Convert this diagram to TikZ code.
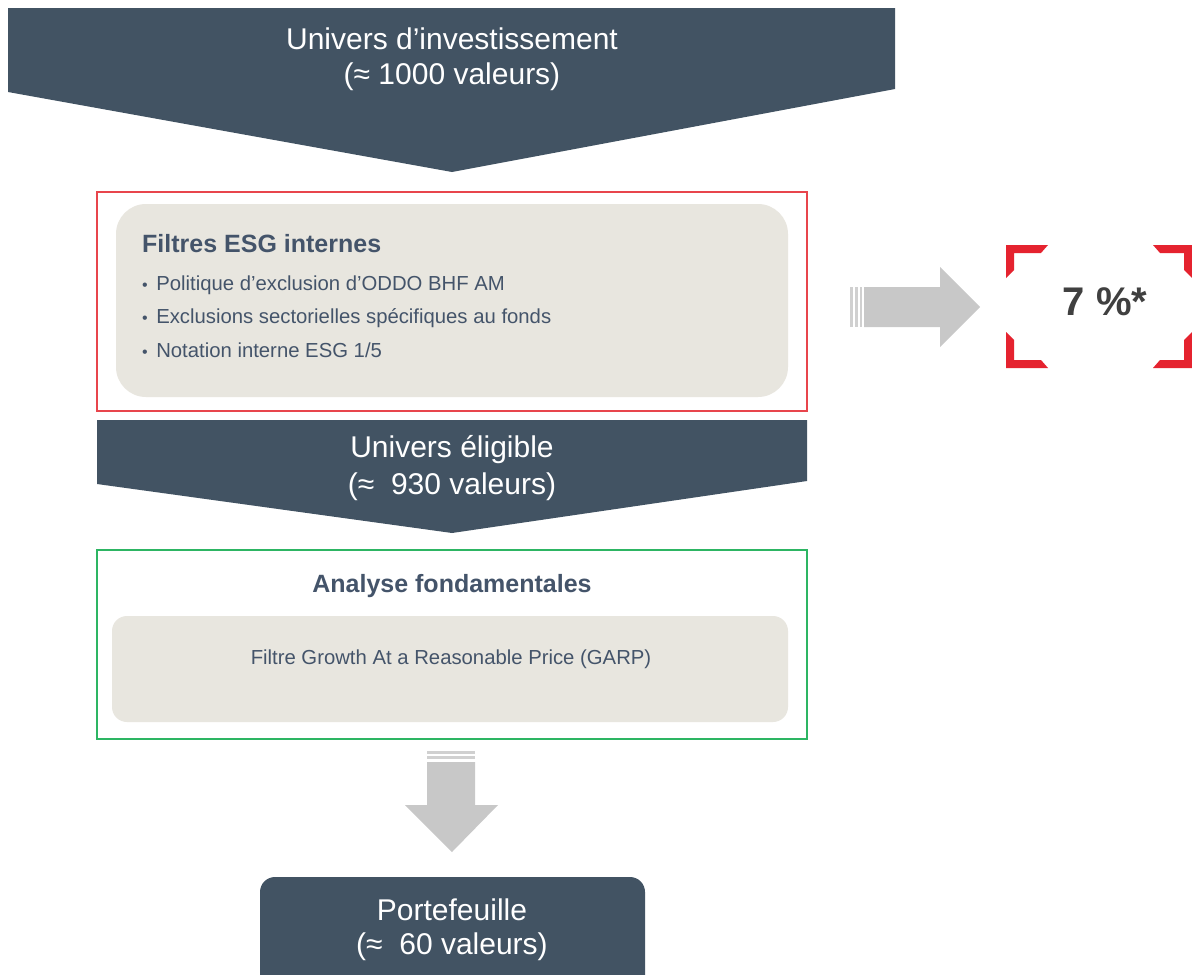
\documentclass[tikz,border=0pt]{standalone}
\usepackage{fontspec}
\setmainfont{Liberation Sans}
\definecolor{slate}{HTML}{425363}
\definecolor{beigec}{HTML}{E8E6DF}
\definecolor{boxtext}{HTML}{44546A}
\definecolor{redbox}{HTML}{E8454C}
\definecolor{redbr}{HTML}{E5232F}
\definecolor{greenbox}{HTML}{2DB563}
\definecolor{arrowgray}{HTML}{C8C8C8}
\definecolor{pcttext}{HTML}{404040}
\newcommand{\bulletitem}[1]{{\fontsize{16}{16}\selectfont•}\hspace{8.5pt}#1}
\tikzset{
  chevron/.style={fill=slate},
  beigebox/.style={fill=beigec},
  blockarrow/.style={fill=arrowgray},
  stripe/.style={fill=arrowgray!85},
  bracket/.style={fill=redbr},
  bigtxt/.style={text=white, align=center, inner sep=0pt, font=\fontsize{30}{36}\selectfont},
  bodytxt/.style={text=boxtext, inner sep=0pt, anchor=west, font=\fontsize{20.3}{24}\selectfont},
  titletxt/.style={text=boxtext, inner sep=0pt, font=\bfseries\fontsize{25}{30}\selectfont},
}
\begin{document}
\begin{tikzpicture}[x=1pt,y=-1pt]
\useasboundingbox (0,0) rectangle (1192,975);
\clip (0,0) rectangle (1192,975);
\fill[white] (0,0) rectangle (1192,975);

% top chevron
\fill[chevron] (8,8) -- (895,8) -- (895,89) -- (452,172) -- (8,92) -- cycle;
\node[bigtxt, font=\fontsize{30}{35}\selectfont] (univ) at (452,59.5) {Univers d’investissement\\(≈ 1000 valeurs)};

% ESG filter box
\draw[redbox, line width=1.6pt] (97,192) rectangle (807,411);
\fill[beigebox, rounded corners=30pt] (116,204) rectangle (788,397);
\node[titletxt, anchor=west] (esgtitle) at (142,244) {Filtres ESG internes};
\node[bodytxt] (b1) at (142,285) {\bulletitem{Politique d’exclusion d’ODDO BHF AM}};
\node[bodytxt] (b2) at (142,318) {\bulletitem{Exclusions sectorielles spécifiques au fonds}};
\node[bodytxt] (b3) at (142,350) {\bulletitem{Notation interne ESG 1/5}};

% middle chevron
\fill[chevron] (97,420) -- (807,420) -- (807,481) -- (452,533) -- (97,484) -- cycle;
\node[bigtxt, font=\fontsize{30}{37}\selectfont] (elig) at (452,468) {Univers éligible\\(≈~ 930 valeurs)};

% fundamental analysis box
\draw[greenbox, line width=1.4pt] (97,550) rectangle (807,739);
\node[titletxt] (fundtitle) at (452,586) {Analyse fondamentales};
\fill[beigebox, rounded corners=15pt] (112,616) rectangle (788,722);
\node[bodytxt, anchor=center] (garp) at (451,659) {Filtre Growth At a Reasonable Price (GARP)};

% down block arrow
\coordinate (dtop) at (452,751);
\coordinate (dtip) at (452,852);
\fill[stripe] (427,751) rectangle (475,753.5);
\fill[stripe] (427,756) rectangle (475,758.5);
\fill[blockarrow] (427,762) -- (475,762) -- (475,805) -- (498,805) -- (dtip) -- (405,805) -- (427,805) -- cycle;

% portfolio
\fill[chevron, rounded corners=15pt] (260,877) rectangle (645,1000);
\node[bigtxt, font=\fontsize{30}{34}\selectfont] (port) at (452,930) {Portefeuille\\(≈~ 60 valeurs)};

% right block arrow
\coordinate (rtip) at (980,307);
\fill[stripe] (850,287) rectangle (852.5,327);
\fill[stripe] (855,287) rectangle (857.5,327);
\fill[stripe] (860,287) rectangle (862,327);
\fill[blockarrow] (864,287) -- (940,287) -- (940,267) -- (rtip) -- (940,347) -- (940,327) -- (864,327) -- cycle;

% red brackets
\fill[bracket] (1006,245) -- (1048,245) -- (1041,253) -- (1014,253) -- (1014,270) -- (1006,278) -- cycle;
\fill[bracket] (1006,368) -- (1048,368) -- (1041,360) -- (1014,360) -- (1014,340) -- (1006,332) -- cycle;
\fill[bracket] (1192,245) -- (1153,245) -- (1160,253) -- (1184,253) -- (1184,270) -- (1192,278) -- cycle;
\fill[bracket] (1192,368) -- (1153,368) -- (1160,360) -- (1184,360) -- (1184,340) -- (1192,332) -- cycle;
\node[text=pcttext, inner sep=0pt, font=\bfseries\fontsize{40}{44}\selectfont] (pct) at (1105,302) {7 \%*};
\end{tikzpicture}
\end{document}
